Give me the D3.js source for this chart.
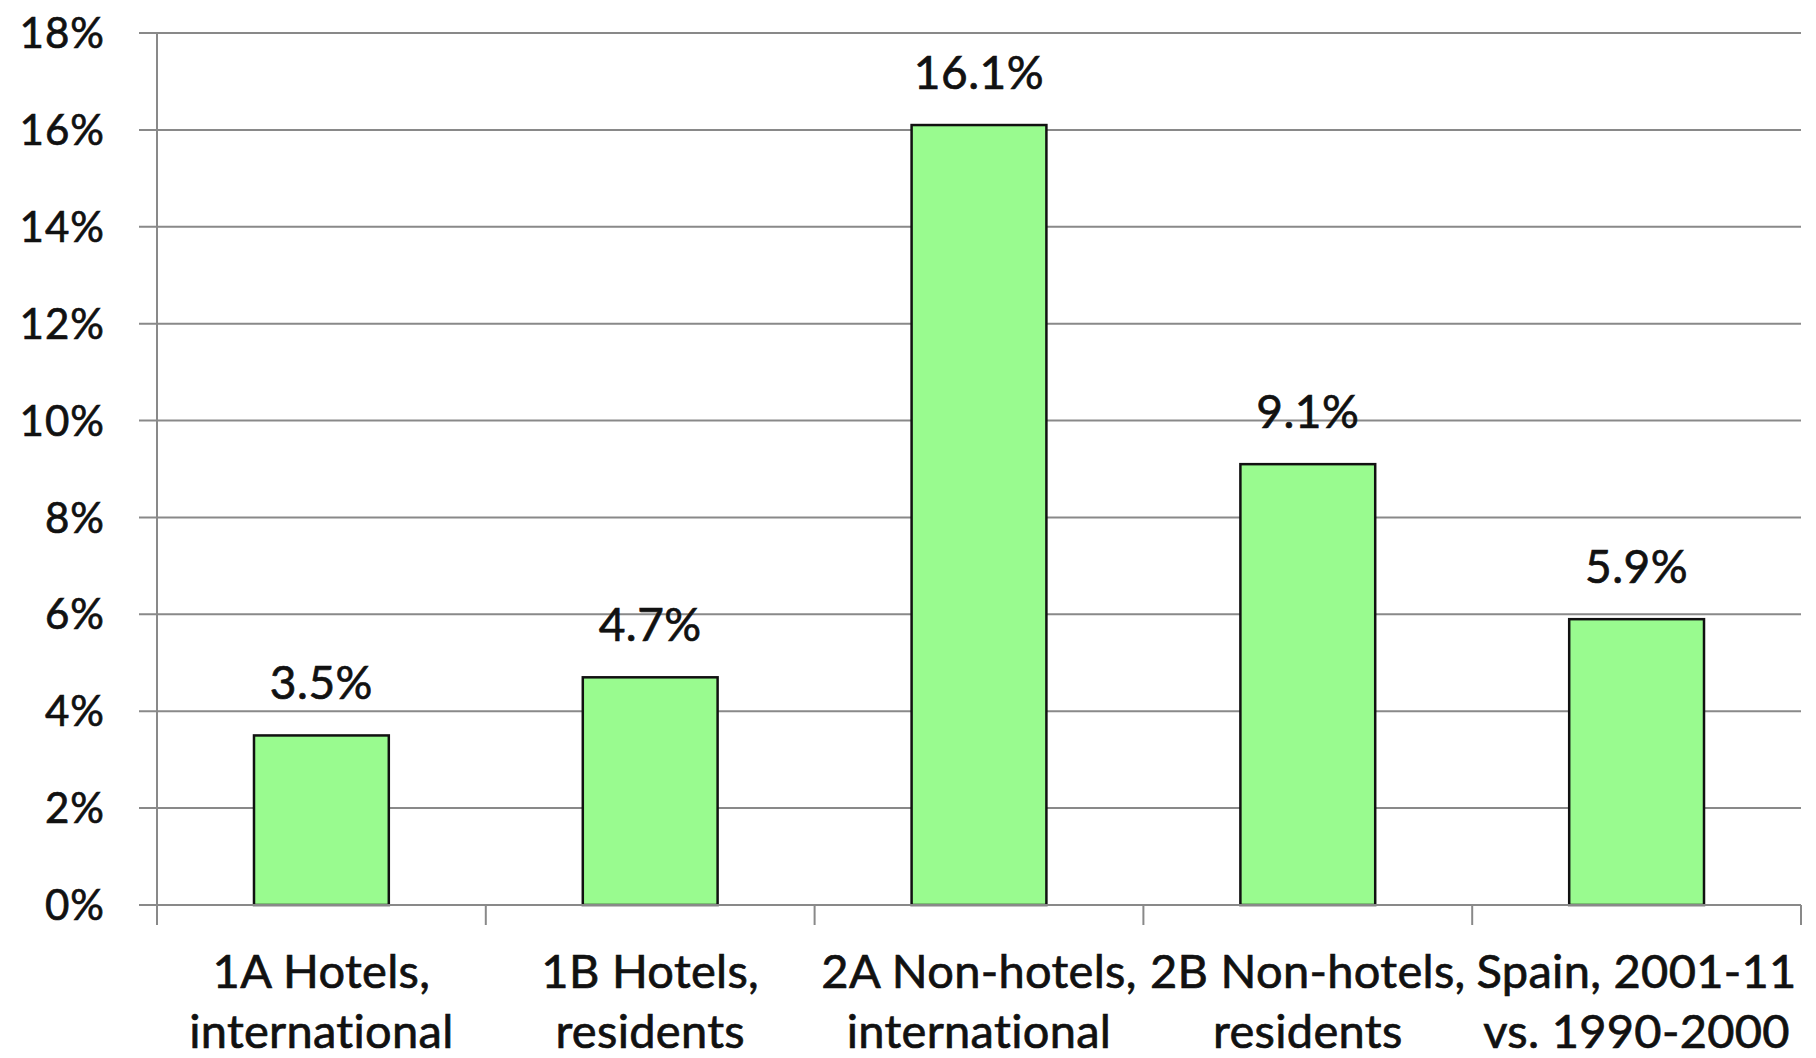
<!DOCTYPE html>
<html>
<head>
<meta charset="utf-8">
<script src="https://cdn.jsdelivr.net/npm/d3@7"></script>
<style>
  html, body { margin: 0; padding: 0; background: #ffffff; }
  svg { display: block; }
  text { paint-order: stroke; }
</style>
</head>
<body>
<svg id="chart" width="1816" height="1058"></svg>
<script>
// Growth rates by accommodation segment
const categories = [
  ["1A Hotels,", "international"],
  ["1B Hotels,", "residents"],
  ["2A Non-hotels,", "international"],
  ["2B Non-hotels,", "residents"],
  ["Spain, 2001-11", "vs. 1990-2000"]
];
const values = [3.5, 4.7, 16.1, 9.1, 5.9];
const yTicks = [0, 2, 4, 6, 8, 10, 12, 14, 16, 18];

const svg = d3.select("#chart");
const plot = { left: 157, right: 1801, top: 33, bottom: 905 };

const gridColor = "#898989";
const textColor = "#111";
const fontFamily = "Lato, 'Open Sans', sans-serif";

const x = d3.scaleBand()
  .domain(d3.range(categories.length))
  .range([plot.left, plot.right])
  .paddingInner(0.59)
  .paddingOuter(0.295);

const y = d3.scaleLinear()
  .domain([0, 18])
  .range([plot.bottom, plot.top]);

// slightly heavier text strokes
function textStyle(sel, size, spacing) {
  sel.attr("font-family", fontFamily)
    .attr("font-size", size)
    .attr("letter-spacing", spacing)
    .attr("fill", textColor)
    .attr("stroke", textColor)
    .attr("stroke-width", 0.7);
}

// horizontal gridlines with outward ticks
svg.append("g")
  .selectAll("line")
  .data(yTicks)
  .join("line")
  .attr("x1", plot.left - 18)
  .attr("x2", plot.right)
  .attr("y1", d => y(d))
  .attr("y2", d => y(d))
  .attr("stroke", gridColor)
  .attr("stroke-width", 2);

// y tick labels
svg.append("g")
  .selectAll("text")
  .data(yTicks)
  .join("text")
  .attr("x", 105)
  .attr("y", d => y(d))
  .attr("dy", "0.36em")
  .attr("text-anchor", "end")
  .call(textStyle, 42, 1)
  .text(d => d + "%");

// y axis line
svg.append("line")
  .attr("x1", plot.left).attr("x2", plot.left)
  .attr("y1", plot.top).attr("y2", plot.bottom)
  .attr("stroke", gridColor)
  .attr("stroke-width", 2);

// category boundary ticks below the x axis
const step = x.step();
const bounds = d3.range(categories.length + 1).map(i => plot.left + i * step);
svg.append("g")
  .selectAll("line")
  .data(bounds)
  .join("line")
  .attr("x1", d => d).attr("x2", d => d)
  .attr("y1", plot.bottom).attr("y2", plot.bottom + 20)
  .attr("stroke", gridColor)
  .attr("stroke-width", 2);

// bars
svg.append("g")
  .selectAll("rect")
  .data(values)
  .join("rect")
  .attr("x", (d, i) => x(i))
  .attr("y", d => y(d))
  .attr("width", x.bandwidth())
  .attr("height", d => y(0) - y(d))
  .attr("fill", "#99fb8f")
  .attr("stroke", "#111")
  .attr("stroke-width", 2.5);

// x axis line (drawn over bar bottoms)
svg.append("line")
  .attr("x1", plot.left).attr("x2", plot.right)
  .attr("y1", plot.bottom).attr("y2", plot.bottom)
  .attr("stroke", gridColor)
  .attr("stroke-width", 2);

// value labels
svg.append("g")
  .selectAll("text")
  .data(values)
  .join("text")
  .attr("x", (d, i) => x(i) + x.bandwidth() / 2)
  .attr("y", d => y(d) - 36)
  .attr("text-anchor", "middle")
  .call(textStyle, 46, 0.5)
  .text(d => d.toFixed(1) + "%");

// category labels, two lines each
const catG = svg.append("g")
  .selectAll("text")
  .data(categories)
  .join("text")
  .attr("text-anchor", "middle")
  .call(textStyle, 47, 0.3);
catG.selectAll("tspan")
  .data((d, i) => d.map(t => ({ t, i })))
  .join("tspan")
  .attr("x", d => x(d.i) + x.bandwidth() / 2)
  .attr("y", (d, j) => 988 + j * 60)
  .text(d => d.t);
</script>
</body>
</html>
